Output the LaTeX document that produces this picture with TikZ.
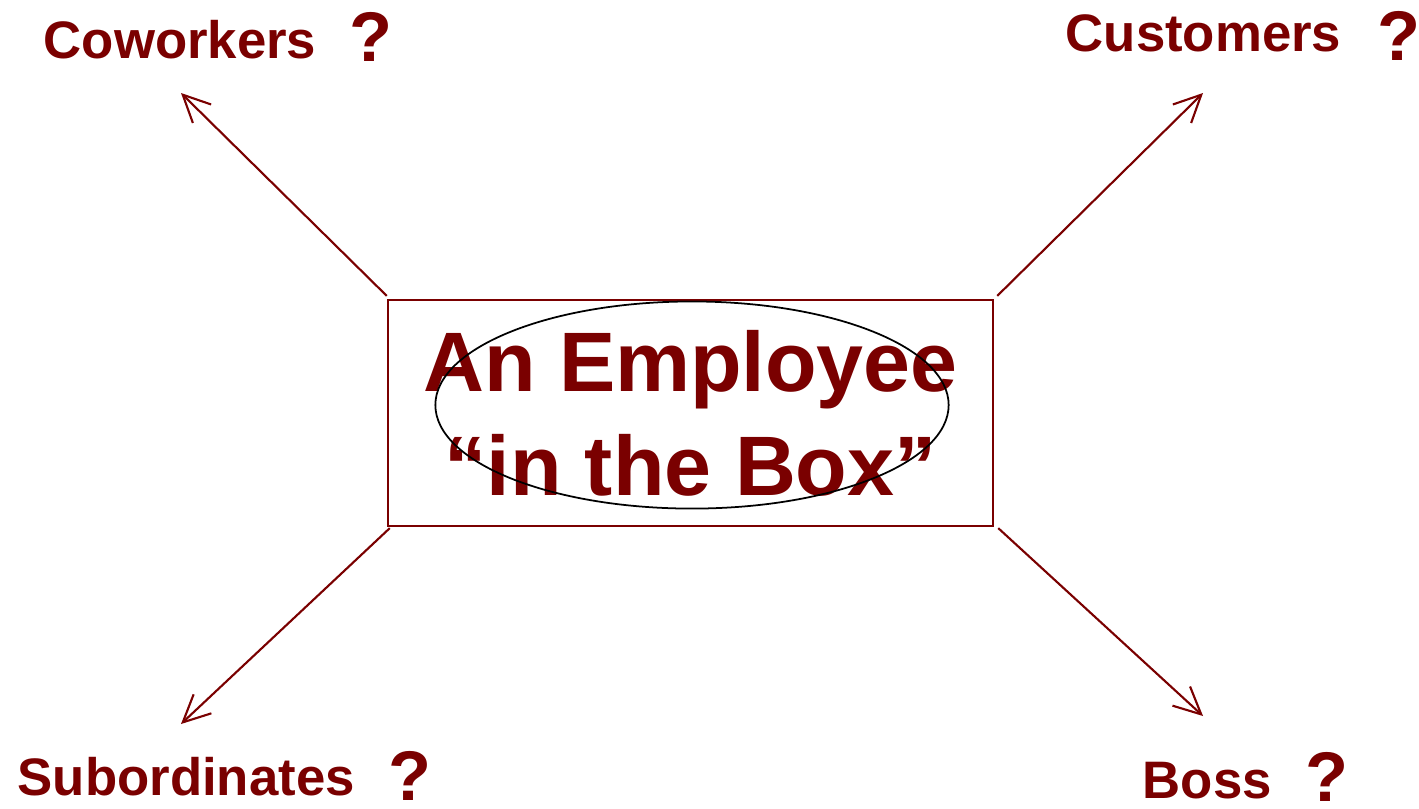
\documentclass[tikz,border=0pt]{standalone}
\usepackage{fontspec}
\setmainfont{Liberation Sans}
\usetikzlibrary{shapes.geometric,arrows.meta}
\definecolor{boxred}{RGB}{122,0,0}

\begin{document}
\begin{tikzpicture}[
    x=0.01cm, y=-0.01cm,
    employee/.style={rectangle, draw=boxred, line width=0.6pt, minimum width=6.05cm, minimum height=2.26cm,
        text=boxred, align=center, font=\fontsize{24}{29.6}\selectfont\bfseries},
    halo/.style={ellipse, draw=black, line width=0.5pt, minimum width=5.13cm, minimum height=2.07cm, inner sep=0pt},
    party/.style={anchor=base west, inner sep=0pt, text=boxred, font=\fontsize{15}{18}\selectfont\bfseries},
    query/.style={anchor=base west, inner sep=0pt, text=boxred, font=\fontsize{20}{24}\selectfont\bfseries},
    link/.style={draw=boxred, line width=0.6pt, -{Straight Barb[length=7.7pt, width=7.4pt]}}
]
    \useasboundingbox (0,0) rectangle (1419,808);

    % Employee box
    \node[employee] (box) at (690.5,413) {An Employee\\“in the Box”};
    \node[halo] (ring) at (692,405) {};

    % Surrounding parties
    \node[party] (coworkers) at (43,58) {Coworkers};
    \node[query] (qcoworkers) at (349,61) {?};
    \node[party] (customers) at (1065,51) {Customers};
    \node[query] (qcustomers) at (1377,60) {?};
    \node[party] (subordinates) at (17,795) {Subordinates};
    \node[query] (qsubordinates) at (388,800) {?};
    \node[party] (boss) at (1142,798) {Boss};
    \node[query] (qboss) at (1305,801) {?};

    % Arrow tips
    \coordinate (tcoworkers) at (181,93);
    \coordinate (tcustomers) at (1203,93);
    \coordinate (tsubordinates) at (181,724);
    \coordinate (tboss) at (1203,716);

    \draw[link] ([shift={(0,-3)}]box.north west) -- (tcoworkers);
    \draw[link] ([shift={(3,-3)}]box.north east) -- (tcustomers);
    \draw[link] ([shift={(3,1)}]box.south west) -- (tsubordinates);
    \draw[link] ([shift={(4,1)}]box.south east) -- (tboss);
\end{tikzpicture}
\end{document}
